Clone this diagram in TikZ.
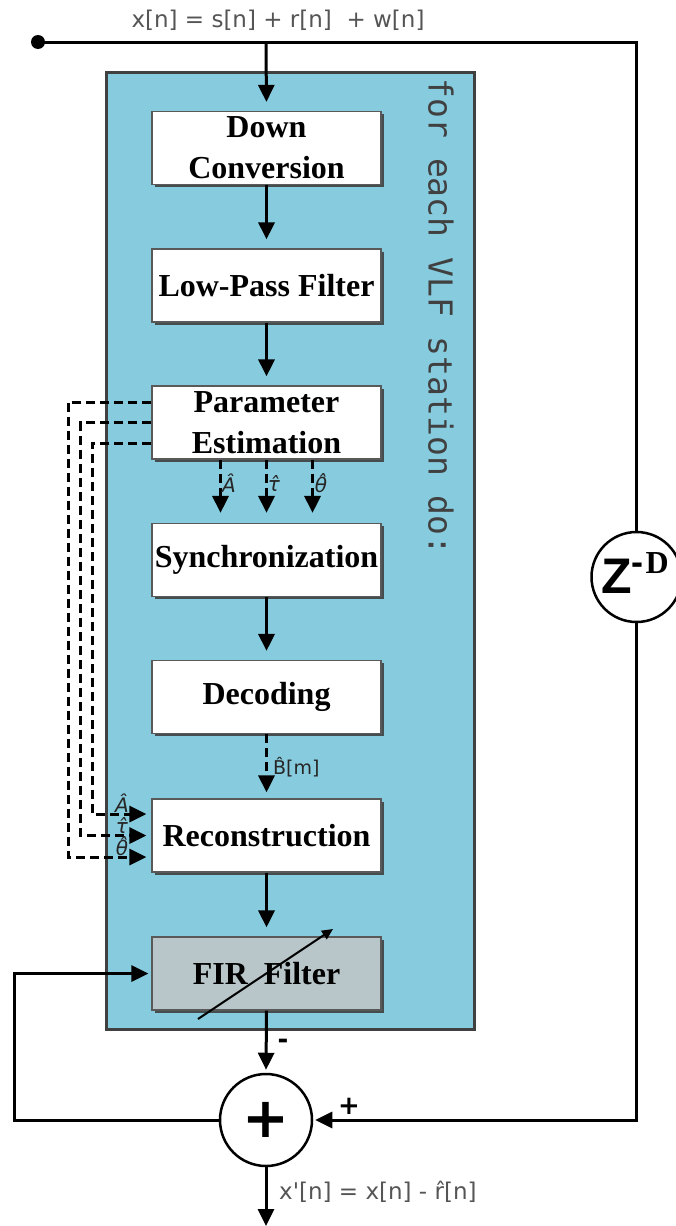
\documentclass[tikz,border=0pt]{standalone}
\usepackage{fontspec}
\setmainfont{Liberation Serif}
\newfontfamily\dvs{DejaVu Sans}
\newfontfamily\lsans{Liberation Sans}
\newfontfamily\monof{DejaVu Sans Mono}
\usetikzlibrary{arrows.meta,shadows}
\definecolor{panelblue}{RGB}{135,203,222}
\definecolor{firgray}{RGB}{184,197,201}
\definecolor{framegray}{RGB}{64,64,64}
\definecolor{textgray}{RGB}{85,85,85}
\begin{document}
\begin{tikzpicture}[x=1pt,y=-1pt,
  blk/.style={draw=black!65, line width=1.2pt, fill=white, minimum width=229pt, minimum height=73pt,
    inner sep=0pt, align=center, font=\fontsize{32}{41}\selectfont\bfseries,
    drop shadow={shadow xshift=2.5pt,shadow yshift=-2.5pt,fill=black!75,opacity=0.9}},
  wire/.style={line width=3pt},
  arr/.style={line width=3pt, -{Triangle[length=17pt,width=16pt]}},
  darr/.style={arr, dash pattern=on 9pt off 5pt},
  dline/.style={line width=3pt, dash pattern=on 9pt off 5pt},
  hatlbl/.style={inner sep=0pt, font=\dvs\itshape\fontsize{20}{20}\selectfont, text=black!85},
  sumcirc/.style={circle, draw, line width=2.5pt, minimum size=92pt, inner sep=0pt, fill=white}
]
\useasboundingbox (0,0) rectangle (675,1226);

% panel
\node[draw=framegray, fill=panelblue, line width=3pt, minimum width=368pt, minimum height=957pt, inner sep=0pt] (panel) at (290,550.5) {};
\node[rotate=-90, font=\monof\fontsize{33}{33}\selectfont, text=framegray, inner sep=0pt] (vt) at (441,317) {for each VLF station do:};

% blocks
\node[blk] (DC) at (266.5,148) {Down\\Conversion};
\node[blk] (LPF) at (266.5,285.5) {Low-Pass Filter};
\node[blk] (PE) at (266.5,422.5) {Parameter\\Estimation};
\node[blk] (SYN) at (266.5,560) {Synchronization};
\node[blk] (DEC) at (266.5,697) {Decoding};
\node[blk] (REC) at (266.5,835.5) {Reconstruction};
\node[blk, fill=firgray] (FIR) at (266.5,973.5) {FIR\ \ Filter};

% input
\node[circle, fill=black, minimum size=14pt, inner sep=0pt] (dot) at (38,42) {};
\node[font=\dvs\fontsize{23}{23}\selectfont, text=textgray, inner sep=0pt] (xin) at (278,20) {x[n] = s[n] + r[n] \ + w[n]};
\coordinate (tap) at (266,42);

% Z^-D
\node[circle, draw, line width=2.5pt, minimum size=90pt, inner sep=0pt, fill=white] (ZD) at (636.5,577) {};
\node[anchor=base west, inner sep=0pt] (zt) at (601,593) {\lsans\bfseries\fontsize{50}{50}\selectfont Z\raisebox{19pt}{\fontsize{36}{36}\selectfont -}\kern2pt\raisebox{20pt}{\rmfamily\bfseries\fontsize{32}{32}\selectfont D}};
\coordinate (corner) at (ZD.north |- tap);

\draw[wire] (dot.center) -- (corner) -- (ZD.north);
\draw[arr, shorten >=9pt] (tap) -- (DC.north);

% solid chain
\draw[arr, shorten >=9pt] (DC.south) -- (LPF.north);
\draw[arr, shorten >=9pt] (LPF.south) -- (PE.north);
\draw[arr, shorten >=9pt] (SYN.south) -- (DEC.north);
\draw[arr, shorten >=9pt] (REC.south) -- (FIR.north);

% PE -> SYN dashed
\draw[darr, shorten >=10pt] ([xshift=-46pt]PE.south) -- ([xshift=-46pt]SYN.north);
\draw[darr, shorten >=10pt] (PE.south) -- (SYN.north);
\draw[darr, shorten >=10pt] ([xshift=46pt]PE.south) -- ([xshift=46pt]SYN.north);
\node[hatlbl] (la1) at (229,483) {Â};
\node[hatlbl] (la2) at (274,483) {τ̂};
\node[hatlbl] (la3) at (321,483) {θ̂};

% DEC -> REC
\draw[darr, shorten >=6pt] (DEC.south) -- (REC.north);
\node[anchor=west, inner sep=0pt, font=\dvs\fontsize{19}{19}\selectfont, text=black!85] (bm) at (273,767) {B̂[m]};

% PE -> REC side dashed paths
\draw[dline, -{Triangle[length=17pt,width=16pt]}, shorten >=5pt] ([yshift=20.5pt]PE.west) -- ++(-83,0) |- ([yshift=-21.5pt]REC.west);
\draw[dline, -{Triangle[length=17pt,width=16pt]}, shorten >=5pt] (PE.west) -- ++(-70.5,0) |- (REC.west);
\draw[dline, -{Triangle[length=17pt,width=16pt]}, shorten >=5pt] ([yshift=-20.5pt]PE.west) -- ++(-59,0) |- ([yshift=21.5pt]REC.west);
\node[hatlbl] (lb1) at (122,803) {Â};
\node[hatlbl] (lb2) at (122,825) {τ̂};
\node[hatlbl] (lb3) at (122,846) {θ̂};

% FIR adaptation arrow
\coordinate (fa0) at (198,1019);
\coordinate (fa1) at (333,929);
\draw[line width=2pt, -{Triangle[length=11pt,width=10pt]}] (fa0) -- (fa1);

% adder
\node[sumcirc] (ADD) at (266,1120) {};
\node[inner sep=0pt, font=\dvs\bfseries\fontsize{56}{56}\selectfont] (plus) at (266,1120) {+};
\draw[arr, shorten >=3pt] (FIR.south) -- (ADD.north);
\node[inner sep=0pt, font=\dvs\bfseries\fontsize{26}{26}\selectfont] (minus) at (283,1044) {-};
\draw[arr, shorten >=2pt] (ZD.south) |- (ADD.east);
\node[inner sep=0pt, font=\dvs\bfseries\fontsize{26}{26}\selectfont] (plus2) at (349,1106) {+};
\coordinate (fb) at (14,1120);
\draw[arr, shorten >=3pt] (ADD.west) -- (fb) |- (FIR.west);
\coordinate (out) at (266,1226);
\draw[arr] (ADD.south) -- (out);
\node[anchor=west, inner sep=0pt, font=\dvs\fontsize{23}{23}\selectfont, text=textgray] (xout) at (279,1192) {x'[n] = x[n] - r̂[n]};
\end{tikzpicture}
\end{document}
